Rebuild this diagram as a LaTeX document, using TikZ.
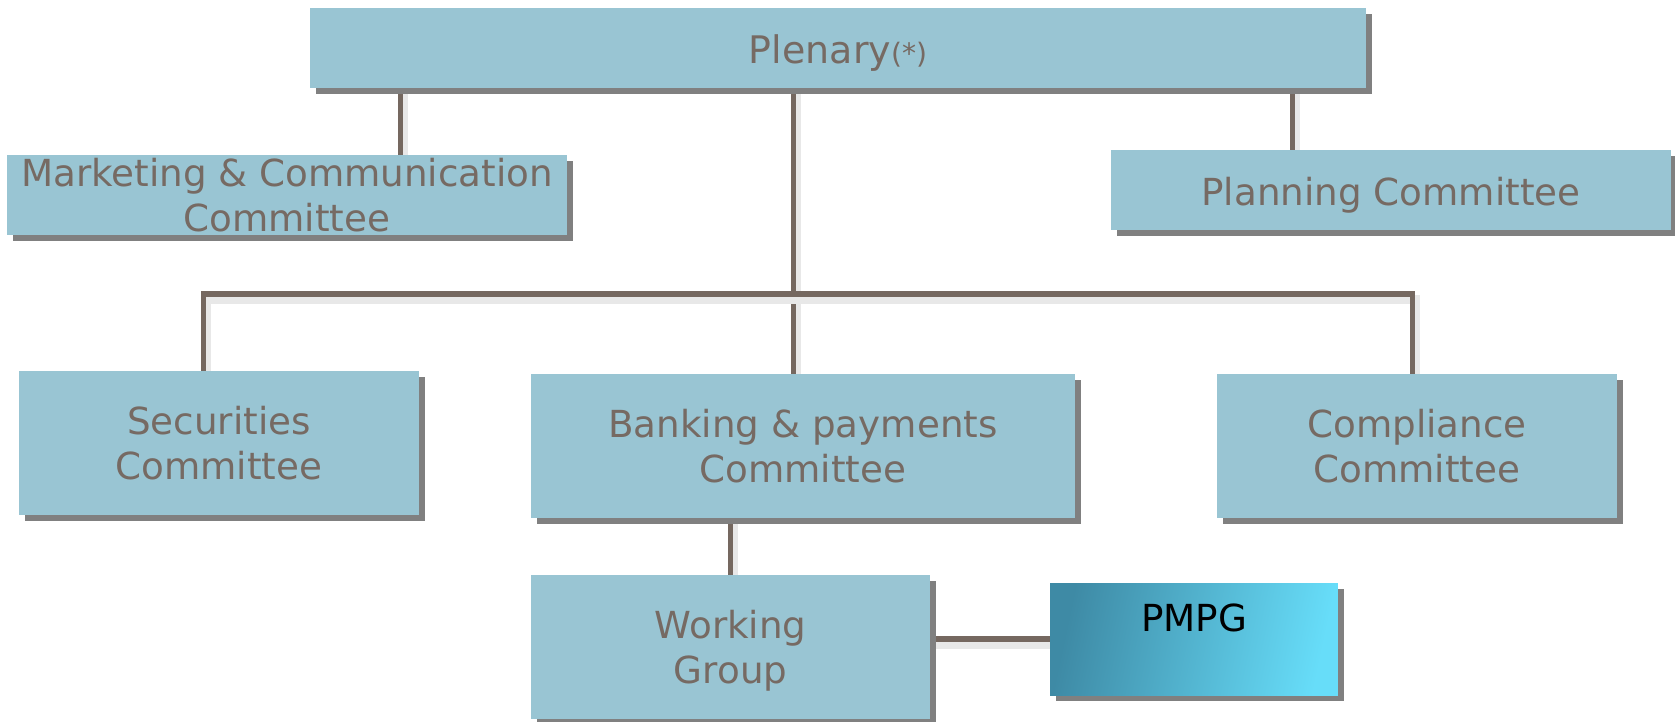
\documentclass[tikz,border=0pt]{standalone}
\usepackage{fontspec}
\setmainfont{DejaVu Sans}
\usetikzlibrary{shadows,backgrounds}

\definecolor{boxfill}{HTML}{99C5D3}
\definecolor{boxtext}{HTML}{766A63}
\definecolor{linkc}{HTML}{756860}
\definecolor{shadowc}{HTML}{808080}
\definecolor{pmpgdark}{HTML}{3E8AA5}
\definecolor{pmpgmid}{HTML}{53B4D8}
\definecolor{pmpglight}{HTML}{67DDF9}

\begin{document}
\begin{tikzpicture}[x=0.02cm,y=-0.02cm,
  every node/.style={inner sep=0pt,font=\fontsize{21.2}{25.3}\selectfont},
  box/.style={rectangle,fill=boxfill,text=boxtext,align=center,
    drop shadow={shadow xshift=0.12cm,shadow yshift=-0.12cm,fill=shadowc,opacity=1}},
  oneline/.style={text height=0.6cm,text depth=0cm},
  link/.style={draw=linkc,line width=2.9pt,
    preaction={draw=black!9,line width=5pt,transform canvas={xshift=1.5pt,yshift=-3pt}}}]
  \useasboundingbox (0,0) rectangle (1675,721);

  % committees
  \node[box,oneline,minimum width=21.12cm,minimum height=1.6cm,font=\fontsize{21.6}{26}\selectfont] (plenary) at (838,48)
    {Plenary{\fontsize{16}{19}\selectfont(*)}};
  \node[box,minimum width=11.2cm,minimum height=1.6cm] (marketing) at (287,195)
    {Marketing \& Communication\\Committee};
  \node[box,oneline,minimum width=11.2cm,minimum height=1.6cm] (planning) at (1391,190) {Planning Committee};
  \node[box,minimum width=8cm,minimum height=2.88cm] (securities) at (219,443) {Securities\\Committee};
  \node[box,minimum width=10.88cm,minimum height=2.88cm] (banking) at (803,446) {Banking \& payments\\Committee};
  \node[box,minimum width=8cm,minimum height=2.88cm] (compliance) at (1417,446) {Compliance\\Committee};
  \node[box,text depth=0pt,minimum width=7.98cm,minimum height=2.88cm] (working) at (730.5,647) {Working\\Group};
  \node[box,text=black,left color=pmpgdark,middle color=pmpgmid,right color=pmpglight,shading angle=78,
    minimum width=5.76cm,minimum height=2.24cm,text height=0.54cm,text depth=0.83cm] (pmpg) at (1194,639) {PMPG};

  % connectors, kept under the boxes
  \begin{scope}[on background layer]
    \coordinate (mkt) at ([xshift=2.27cm]marketing.north);
    \coordinate (pln) at ([xshift=-1.97cm]planning.north);
    \coordinate (bnk) at ([xshift=-0.19cm]banking.north);
    \coordinate (sec) at ([xshift=-0.31cm]securities.north);
    \coordinate (cmp) at ([xshift=-0.09cm]compliance.north);
    \coordinate (bus) at (793,294);
    \draw[link] (mkt) -- (mkt |- plenary.south);
    \draw[link] (pln) -- (pln |- plenary.south);
    \draw[link] (bnk) -- (bnk |- plenary.south);
    \draw[link] (sec) |- (bus) -| (cmp);
    \draw[link] (working.north) -- (working.north |- banking.south);
    \draw[link] (pmpg.west) -- (pmpg.west -| working.east);
  \end{scope}
\end{tikzpicture}
\end{document}
